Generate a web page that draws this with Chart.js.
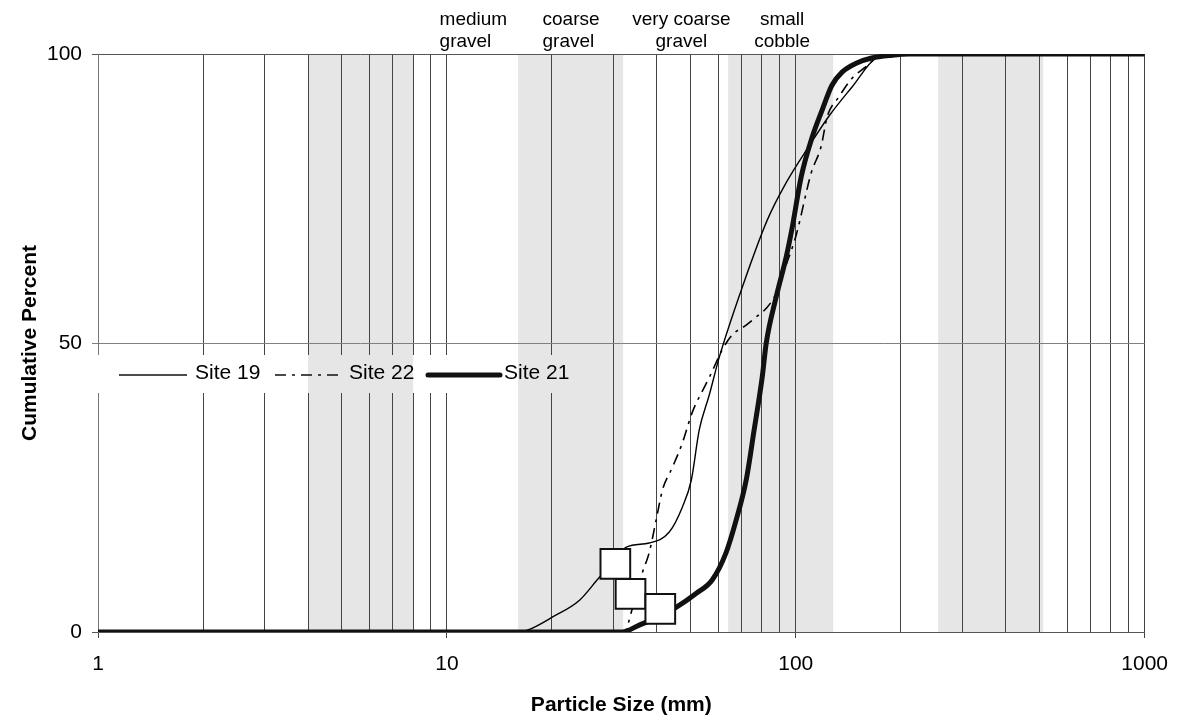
<!DOCTYPE html>
<html><head><meta charset="utf-8">
<script src="https://cdn.jsdelivr.net/npm/chart.js@4.4.1/dist/chart.umd.min.js"></script>
<style>html,body{margin:0;padding:0;background:#fff;}#wrap{width:1182px;height:724px;}</style>
</head><body><div id="wrap"><canvas id="c" width="1182" height="724"></canvas></div>
<script>
// ---------- data ----------
const seriesNames = ['Site 19', 'Site 22', 'Site 21'];
const site19Size = [1, 16, 17, 20.1, 24, 27.4, 30, 32.7, 38, 43.4, 47.3, 50.2, 52.9, 56.5, 60.4, 70.3, 82.9, 93.8, 109, 125, 145, 170, 198, 1000];
const site19Pct  = [0, 0, 0.3, 2.6, 5.5, 9.5, 12, 14.7, 15.4, 17.3, 21.6, 26.3, 35, 41, 47.6, 59.7, 71.3, 77.7, 84, 89.4, 94.3, 99.3, 100, 100];
const site22Size = [1, 32.3, 33.8, 36.3, 38, 39.8, 41.5, 44.3, 47.3, 50.5, 55.4, 57.3, 61.5, 65.8, 72.1, 77, 82.3, 87.9, 92.7, 100.3, 110.7, 118.2, 123, 133, 145, 159, 170, 198, 1000];
const site22Pct  = [0, 0, 3.5, 10.2, 13.7, 19.4, 24.6, 28.5, 32.7, 38, 43, 44.8, 48.8, 51.4, 53.1, 54.5, 56, 58.6, 62.6, 68.7, 79.4, 84, 89.1, 92.6, 95.8, 97.8, 99.3, 100, 100];
const site21Size = [1, 31.8, 35.6, 39.8, 45.5, 51.9, 57.6, 63.1, 67.5, 72.1, 76, 80.1, 82.3, 87.9, 93.9, 97.7, 103.6, 111.4, 119, 127, 136, 149, 165, 189, 211, 1000];
const site21Pct  = [0, 0, 1.2, 2.4, 4.3, 6.7, 9, 13.7, 19.4, 26.3, 35, 44, 50, 58, 64.9, 70, 78.7, 85.6, 90.3, 94.6, 96.9, 98.4, 99.3, 99.8, 100, 100];
const markerSize = [30.4, 33.6, 40.9];
const markerPct  = [11.8, 6.6, 4.0];
const xTicks = [1,2,3,4,5,6,7,8,9,10,20,30,40,50,60,70,80,90,100,200,300,400,500,600,700,800,900,1000];
const xMajor = [1, 10, 100, 1000];
const yTicks = [0, 50, 100];
const bands = [[4, 8], [16, 32], [64, 128], [256, 512]];
const classLabels = [['medium', 'gravel'], ['coarse', 'gravel'], ['very coarse', 'gravel'], ['small', 'cobble']];
const classLabelSize = [9.53, 18.8, 47.0, 91.4];
const classLabelAlign = ['left', 'left', 'center', 'center'];

const FONT = "'Liberation Sans', Arial, sans-serif";
const toPts = (xs, ys) => xs.map((x, i) => ({ x: x, y: ys[i] }));

function fillBands(chart) {
  const { ctx, chartArea: a, scales: { x } } = chart;
  ctx.fillStyle = '#e6e6e6';
  bands.forEach(([lo, hi]) => {
    const x0 = x.getPixelForValue(lo), x1 = x.getPixelForValue(hi);
    ctx.fillRect(x0, a.top, x1 - x0, a.bottom - a.top);
  });
}

const decor = {
  id: 'decor',
  beforeDraw(chart) {
    const ctx = chart.ctx;
    ctx.save(); fillBands(chart); ctx.restore();
  },
  beforeDatasetsDraw(chart) {
    const { ctx, chartArea: a } = chart;
    const bx = a.left - 1, by = a.top + 301, bw = 493, bh = 38;
    ctx.save();
    ctx.fillStyle = '#fff';
    ctx.fillRect(bx, by, bw, bh);
    ctx.beginPath(); ctx.rect(bx, by, bw, bh); ctx.clip();
    fillBands(chart);
    ctx.restore();
  },
  afterDraw(chart) {
    const { ctx, chartArea: a, scales: { x } } = chart;
    ctx.save();
    // legend
    const ly = a.top + 321;
    const entries = [
      { name: seriesNames[0], x0: 21, x1: 89, tx: 97, w: 1.4, dash: [] },
      { name: seriesNames[1], x0: 177, x1: 245, tx: 251, w: 1.6, dash: [11, 6, 3, 6] },
      { name: seriesNames[2], x0: 330, x1: 402, tx: 406, w: 5, dash: [] }
    ];
    ctx.font = '21px ' + FONT;
    ctx.textBaseline = 'middle';
    ctx.textAlign = 'left';
    entries.forEach(e => {
      ctx.strokeStyle = '#111';
      ctx.lineWidth = e.w;
      ctx.lineCap = e.w > 3 ? 'round' : 'butt';
      ctx.setLineDash(e.dash);
      ctx.beginPath(); ctx.moveTo(a.left + e.x0, ly); ctx.lineTo(a.left + e.x1, ly); ctx.stroke();
      ctx.setLineDash([]);
      ctx.fillStyle = '#000';
      ctx.fillText(e.name, a.left + e.tx, ly - 2);
    });
    // class labels above plot
    ctx.font = '19px ' + FONT;
    ctx.textBaseline = 'alphabetic';
    classLabels.forEach((lines, i) => {
      const px = x.getPixelForValue(classLabelSize[i]);
      ctx.textAlign = classLabelAlign[i];
      ctx.fillText(lines[0], px, 25);
      ctx.fillText(lines[1], px, 47);
    });
    ctx.restore();
  }
};

new Chart(document.getElementById('c'), {
  type: 'line',
  data: {
    datasets: [
      { label: 'D16', data: toPts(markerSize, markerPct), showLine: false, pointStyle: 'rect', pointRadius: 21,
        pointBackgroundColor: '#fff', pointBorderColor: '#111', pointBorderWidth: 2 },
      { label: seriesNames[2], data: toPts(site21Size, site21Pct), borderColor: '#111', borderWidth: 5,
        pointRadius: 0, cubicInterpolationMode: 'monotone', fill: false },
      { label: seriesNames[1], data: toPts(site22Size, site22Pct), borderColor: '#000', borderWidth: 1.6,
        borderDash: [11, 6, 3, 6], pointRadius: 0, cubicInterpolationMode: 'monotone', fill: false },
      { label: seriesNames[0], data: toPts(site19Size, site19Pct), borderColor: '#000', borderWidth: 1.4,
        pointRadius: 0, cubicInterpolationMode: 'monotone', fill: false }
    ]
  },
  options: {
    responsive: false, animation: false, devicePixelRatio: 1,
    layout: { padding: { top: 54, right: 36, left: 0, bottom: 0 } },
    plugins: { legend: { display: false }, tooltip: { enabled: false } },
    scales: {
      x: {
        type: 'logarithmic', min: 1, max: 1000,
        afterBuildTicks: s => { s.ticks = xTicks.map(v => ({ value: v, major: xMajor.includes(v) })); },
        afterFit: s => { s.height = 92; },
        ticks: { autoSkip: false, maxRotation: 0, minRotation: 0, padding: 14, color: '#000',
          font: { family: FONT, size: 21 },
          callback: v => xMajor.includes(v) ? String(v) : '' },
        grid: { color: '#444', lineWidth: 1, tickLength: 6,
          tickColor: c => (c.tick && xMajor.includes(c.tick.value)) ? '#444' : 'rgba(0,0,0,0)' },
        border: { color: '#555', width: 1 },
        title: { display: true, text: 'Particle Size (mm)', color: '#000',
          font: { family: FONT, size: 21, weight: 'bold' }, padding: { top: 0, bottom: 6 } }
      },
      y: {
        min: 0, max: 100,
        afterBuildTicks: s => { s.ticks = yTicks.map(v => ({ value: v })); },
        afterFit: s => { s.width = 98; },
        ticks: { padding: 10, color: '#000', font: { family: FONT, size: 21 } },
        grid: { color: c => (c.tick && c.tick.value === 50) ? '#808080' : '#555', tickLength: 6,
          tickColor: c => (c.tick && c.tick.value === 50) ? '#808080' : '#555' },
        border: { color: '#777', width: 1 },
        title: { display: true, text: 'Cumulative Percent', color: '#000',
          font: { family: FONT, size: 21, weight: 'bold' }, padding: { top: 18, bottom: 0 } }
      }
    }
  },
  plugins: [decor]
});
</script>
</body></html>
